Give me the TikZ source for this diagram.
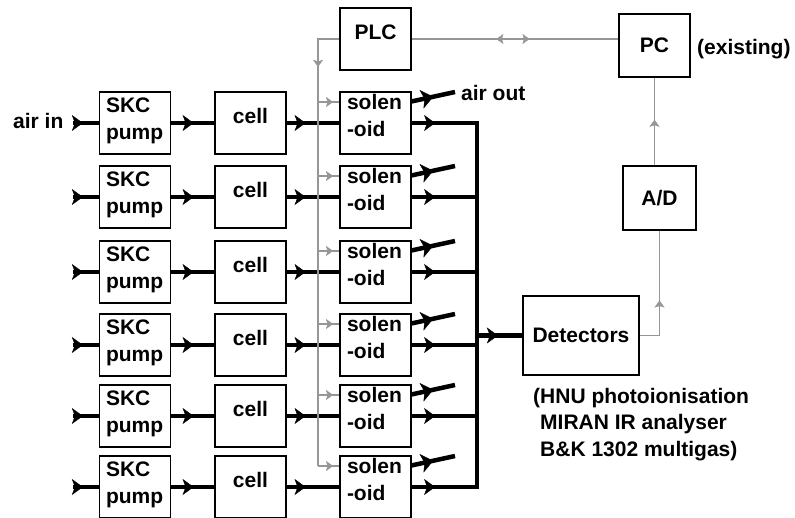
\documentclass[tikz,border=0pt]{standalone}
\usepackage{fontspec}
\setmainfont{Liberation Sans}
\usetikzlibrary{arrows.meta,decorations.markings}
\definecolor{sigrey}{RGB}{150,150,150}

\tikzset{
  pipetip/.tip={Stealth[length=11pt,width=16pt,inset=3pt,line width=0.4pt]},
  venttip/.tip={Stealth[length=12pt,width=19pt,inset=3pt,line width=0.4pt]},
  sigtip/.tip={Stealth[length=7pt,width=10pt,inset=1.5pt,line width=0.3pt]},
  unitbox/.style={draw,line width=1.1pt,minimum width=71pt,minimum height=62pt,inner sep=0pt},
  pumpbox/.style={unitbox,align=left,text width=58pt,text height=5pt,text depth=27pt},
  solbox/.style={unitbox,align=left,text width=57pt,text height=0pt,text depth=27pt},
  cellbox/.style={unitbox,text height=14pt,text depth=14pt},
  pipe/.style={line width=4.5pt,decoration={markings,mark=at position #1 with {\arrow{pipetip}}},postaction={decorate}},
  pipe/.default=0.5,
  vent/.style={line width=4.5pt,decoration={markings,mark=at position #1 with {\arrow{venttip}}},postaction={decorate}},
  signal/.style={sigrey,line width=1.2pt,decoration={markings,mark=at position #1 with {\arrow{sigtip}}},postaction={decorate}},
  signal/.default=0.5,
}

\begin{document}
\begin{tikzpicture}[x=1pt,y=-1pt,font=\bfseries\fontsize{21}{27}\selectfont]
  \useasboundingbox (0,0) rectangle (795,517);
  % control and read-out
  \node[cellbox] (PLC) at (375.5,39) {PLC};
  \node[unitbox,minimum height=63pt] (PC) at (654.5,45.5) {PC};
  \node[unitbox,minimum width=73pt,minimum height=64pt] (AD) at (659.5,198) {A/D};
  \node[unitbox,minimum width=116pt,minimum height=79pt] (Det) at (581,335.5) {Detectors};
  \node[anchor=base west,inner sep=0pt] (exist) at (697,54) {(existing)};
  \node[anchor=north west,inner sep=0pt,align=left,font=\bfseries\fontsize{21}{26.5}\selectfont] (detnote) at (533,388)
    {(HNU photoionisation\\\phantom{(}MIRAN IR analyser\\\phantom{(}B\&K 1302 multigas)};
  \node[anchor=base west,inner sep=0pt] (airin) at (13,128) {air in};
  \node[anchor=base west,inner sep=0pt] (airout) at (461,100) {air out};

  % sampling lines
  \foreach \y [count=\i] in {123,197,272,345,416,487}{
    \node[pumpbox] (pump\i) at (135,\y) {SKC\\pump};
    \node[cellbox] (cell\i) at (250.5,\y) {cell};
    \node[solbox] (sol\i) at (375.5,\y) {solen\\-oid};
    \coordinate (in\i) at (73,\y);
    \coordinate (tap\i) at (318,\y-21);
    \coordinate (vent\i) at (455,\y-31);
    \draw[pipe=0.38] (in\i) -- (pump\i.west);
    \draw[pipe=0.52] (pump\i.east) -- (cell\i.west);
    \draw[pipe=0.36] (cell\i.east) -- (sol\i.west);
    \draw[vent=0.5] ([yshift=-10pt]sol\i.north east) -- (vent\i);
  }

  % manifold
  \coordinate (bustop) at (477,123);
  \coordinate (busbot) at (477,487);
  \foreach \i in {1,...,6}
    \draw[pipe=0.36] (sol\i.east) -- (sol\i.east -| bustop);
  \draw[line width=4.5pt,line cap=rect] (bustop) -- (busbot);
  \draw[pipe=0.46] (Det.west -| bustop) -- (Det.west);

  % signals
  \draw[signal=0.11] (PLC.west) -| (tap6);
  \foreach \i in {1,...,6}
    \draw[signal=0.7] (tap\i) -- (tap\i -| sol\i.west);
  \draw[sigrey,line width=1.2pt,decoration={markings,
      mark=at position 0.41 with {\arrowreversed{sigtip}},
      mark=at position 0.57 with {\arrow{sigtip}}},postaction={decorate}]
    (PLC.east) -- (PLC.east -| PC.west);
  \draw[signal=0.44] (Det.east) -| (AD.south);
  \draw[signal=0.52] (AD.north -| PC.south) -- (PC.south);
\end{tikzpicture}
\end{document}
